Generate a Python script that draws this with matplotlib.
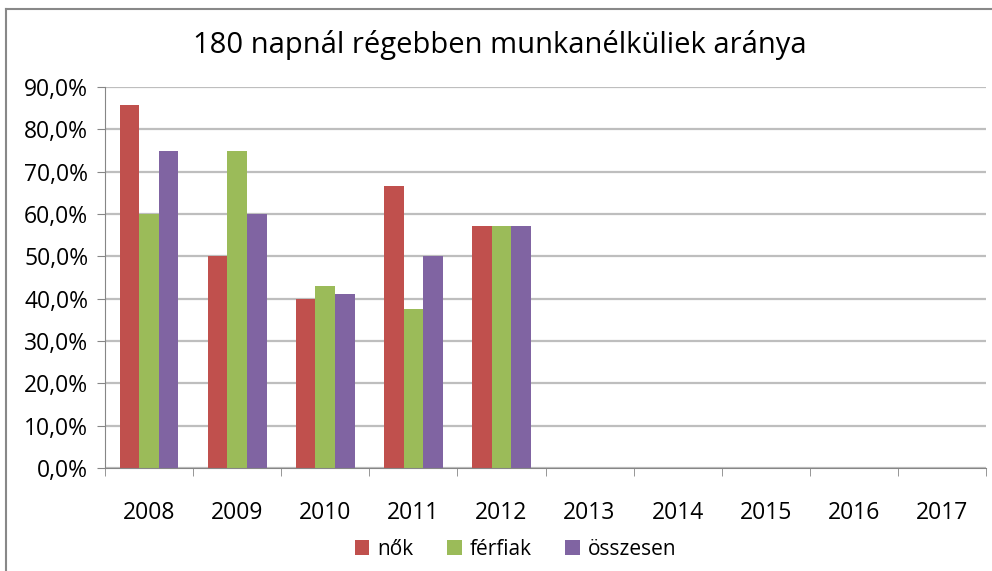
import numpy as np
import matplotlib.pyplot as plt
from matplotlib.lines import Line2D
from matplotlib.ticker import FuncFormatter

years = ['2008', '2009', '2010', '2011', '2012', '2013', '2014', '2015', '2016', '2017']
nok = [85.7, 50.0, 40.0, 66.7, 57.1]
ferfiak = [60.0, 75.0, 42.9, 37.5, 57.1]
osszesen = [75.0, 60.0, 41.2, 50.0, 57.1]

plt.rcParams['font.family'] = ['Open Sans', 'DejaVu Sans']

fig = plt.figure(figsize=(9.92, 5.71), dpi=100)
ax = fig.add_axes([105 / 992, 103 / 571, 881 / 992, 381 / 571])

w = 1 / 4.5
x = np.arange(len(nok))
ax.bar(x - w, nok, w, color='#C0504D', label='nők')
ax.bar(x, ferfiak, w, color='#9BBB59', label='férfiak')
ax.bar(x + w, osszesen, w, color='#8064A2', label='összesen')

ax.set_xlim(-0.5, len(years) - 0.5)
ax.set_ylim(0, 90)
ax.set_yticks(range(0, 91, 10))
ax.yaxis.set_major_formatter(FuncFormatter(lambda v, p: f'{v:.1f}%'.replace('.', ',')))
ax.set_xticks(range(len(years)))
ax.set_xticklabels(years)
ax.set_xticks(np.arange(-0.5, len(years), 1), minor=True)
ax.tick_params(axis='x', which='major', length=0, pad=24, labelsize=16.5)
ax.tick_params(axis='x', which='minor', length=6, color='#868686')
ax.tick_params(axis='y', length=6, color='#868686', labelsize=16.5, pad=6)

ax.grid(axis='y', color='#BEBEBE', linewidth=1.6)
ax.set_axisbelow(True)
for s in ['top', 'right']:
    ax.spines[s].set_visible(False)
ax.spines['left'].set_color('#868686')
ax.spines['bottom'].set_color('#868686')

fig.text(0.504, 0.922, '180 napnál régebben munkanélküliek aránya', ha='center', va='center', fontsize=21)
fig.legend(loc='center', bbox_to_anchor=(0.52, 0.038), ncol=3, frameon=False, fontsize=15,
           handlelength=0.7, handleheight=0.7, handletextpad=0.4, columnspacing=1.6)

# chart frame
fig.add_artist(Line2D([6 / 992, 1], [1 - 9 / 571, 1 - 9 / 571], color='#888888', lw=1.5))
fig.add_artist(Line2D([6 / 992, 6 / 992], [0, 1 - 9 / 571], color='#888888', lw=1.5))

fig.savefig('out.png', dpi=100)
